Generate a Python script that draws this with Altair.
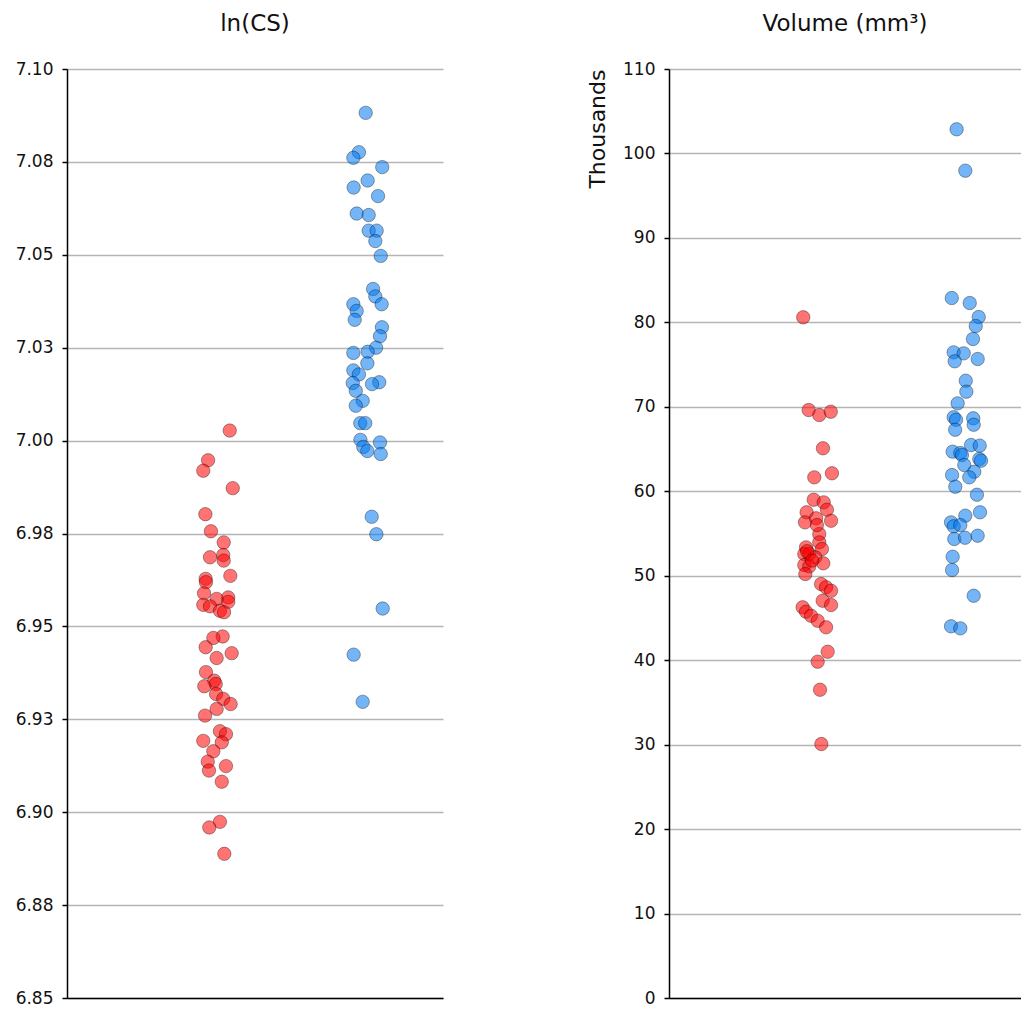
import altair as alt
import pandas as pd

FONT = "DejaVu Sans"
RED = "#FF0000"
BLUE = "#0078F0"

# ---------------- ln(CS) panel ----------------
lncs_red_x = [1.082, 0.938, 0.906, 1.102, 0.920, 0.957, 1.042, 0.951, 1.039, 1.042,
              1.086, 0.922, 0.924, 0.911, 1.072, 0.995, 0.906, 0.951, 1.072, 1.017,
              1.044, 1.035, 0.973, 0.922, 1.095, 0.995, 0.924, 0.979, 0.989, 0.913,
              0.991, 1.039, 1.088, 0.995, 0.918, 1.017, 1.057, 0.906, 1.029, 0.973,
              0.936, 0.944, 1.057, 1.029, 1.017, 0.946, 1.046]
lncs_red_y = [7.0027, 6.9947, 6.9919, 6.9872, 6.9802, 6.9756, 6.9726, 6.9686, 6.9692, 6.9677,
              6.9636, 6.9628, 6.9619, 6.9589, 6.9578, 6.9574, 6.9558, 6.9554, 6.9566, 6.9542,
              6.9538, 6.9473, 6.9469, 6.9444, 6.9428, 6.9415, 6.9377, 6.9354, 6.9345, 6.9339,
              6.9318, 6.9305, 6.9291, 6.9278, 6.9260, 6.9218, 6.9210, 6.9192, 6.9188, 6.9164,
              6.9136, 6.9112, 6.9124, 6.9082, 6.8974, 6.8959, 6.8888]
lncs_blue_x = [1.986, 1.941, 1.904, 2.096, 1.999, 1.906, 2.068, 1.926, 2.006, 2.006,
               2.059, 2.050, 2.086, 2.035, 2.050, 2.092, 1.904, 1.926, 1.913, 2.094,
               2.081, 2.055, 1.904, 1.999, 1.997, 1.904, 1.941, 2.076, 2.028, 1.900,
               1.920, 1.966, 1.920, 1.950, 1.983, 1.951, 2.081, 1.970, 1.997, 2.086,
               2.026, 2.057, 2.099, 1.906, 1.966]
lncs_blue_y = [7.0882, 7.0776, 7.0761, 7.0736, 7.0700, 7.0681, 7.0658, 7.0611, 7.0607, 7.0565,
               7.0565, 7.0537, 7.0497, 7.0408, 7.0388, 7.0367, 7.0367, 7.0349, 7.0325, 7.0305,
               7.0281, 7.0250, 7.0236, 7.0239, 7.0208, 7.0189, 7.0178, 7.0157, 7.0152, 7.0155,
               7.0134, 7.0107, 7.0094, 7.0047, 7.0047, 7.0002, 6.9995, 6.9983, 6.9972, 6.9964,
               6.9795, 6.9748, 6.9548, 6.9424, 6.9297]
lncs_ticks = [6.85, 6.875, 6.9, 6.925, 6.95, 6.975, 7.0, 7.025, 7.05, 7.075, 7.1]
lncs_labels = ["6.85", "6.88", "6.90", "6.93", "6.95", "6.98", "7.00", "7.03", "7.05", "7.08", "7.10"]

# ---------------- Volume panel (thousands of mm^3) ----------------
vol_red_x = [0.912, 0.949, 1.021, 1.099, 1.046, 0.987, 1.107, 0.983, 1.051, 1.073,
             0.935, 0.924, 0.999, 1.101, 1.021, 1.021, 0.931, 1.039, 0.919, 0.953,
             0.994, 1.048, 0.919, 0.953, 0.926, 1.033, 1.067, 1.101, 1.044, 1.101,
             0.908, 0.931, 0.965, 1.010, 1.067, 1.078, 1.010, 1.026, 1.035, 0.938,
             0.972, 1.005]
vol_red_y = [80.60, 69.62, 69.03, 69.42, 65.09, 61.65, 62.13, 59.00, 58.69, 57.82,
             57.51, 56.32, 56.80, 56.51, 54.94, 53.95, 53.36, 53.16, 52.57, 52.57,
             52.18, 51.47, 51.27, 51.11, 50.20, 49.02, 48.63, 48.22, 47.04, 46.53,
             46.26, 45.74, 45.26, 44.67, 43.89, 41.00, 39.82, 36.50, 30.07, 52.90,
             51.80, 56.00]
vol_blue_x = [1.954, 2.013, 1.921, 2.043, 2.104, 2.084, 2.065, 1.934, 2.002, 1.941,
              2.097, 2.016, 2.020, 1.961, 1.934, 1.950, 2.067, 2.070, 1.944, 2.052,
              2.111, 1.927, 1.979, 1.990, 2.108, 2.120, 2.006, 2.074, 2.040, 1.923,
              1.945, 2.092, 2.113, 2.013, 1.916, 1.934, 1.979, 1.938, 2.011, 2.097,
              1.927, 1.923, 2.070, 1.916, 1.979]
vol_blue_y = [102.86, 97.96, 82.88, 82.29, 80.63, 79.57, 78.03, 76.45, 76.33, 75.39,
              75.66, 73.09, 71.79, 70.41, 68.76, 68.47, 68.64, 67.88, 67.29, 65.48,
              65.40, 64.69, 64.53, 64.29, 63.82, 63.62, 63.11, 62.31, 61.65, 61.92,
              60.54, 59.59, 57.51, 57.11, 56.32, 55.85, 56.00, 54.35, 54.50, 54.74,
              52.25, 50.67, 47.63, 44.01, 43.77]
vol_ticks = [0, 10, 20, 30, 40, 50, 60, 70, 80, 90, 100, 110]


def make_df(rx, ry, bx, by):
    return pd.DataFrame({
        "x": rx + bx,
        "y": ry + by,
        "g": ["red"] * len(rx) + ["blue"] * len(bx),
    })


def panel(df, title, ydomain, xdomain, width, yaxis):
    return alt.Chart(df).mark_point(
        shape="circle", filled=True, size=180, fillOpacity=0.55,
        stroke="#000000", strokeOpacity=0.35, strokeWidth=1,
    ).encode(
        x=alt.X("x:Q", scale=alt.Scale(domain=xdomain, nice=False, zero=False),
                axis=alt.Axis(title=None, labels=False, ticks=False, grid=False,
                              domainColor="#000000", domainWidth=1.5)),
        y=alt.Y("y:Q", scale=alt.Scale(domain=ydomain, nice=False, zero=False),
                axis=yaxis),
        color=alt.Color("g:N", scale=alt.Scale(domain=["red", "blue"], range=[RED, BLUE]),
                        legend=None),
    ).properties(
        width=width, height=929,
        title=alt.TitleParams(title, fontSize=23, font=FONT, fontWeight="normal",
                              color="#111111", anchor="middle", offset=24),
    )


common_axis = dict(
    grid=True, gridColor="#b5b5b5", gridWidth=1.5,
    domainColor="#000000", domainWidth=1.5,
    tickColor="#000000", tickSize=5, tickWidth=1.5,
    labelFontSize=17, labelFont=FONT, labelColor="#111111", labelPadding=9,
)

lab_expr = "[" + ",".join("'%s'" % s for s in lncs_labels) + "][round((datum.value - 6.85) / 0.025)]"

left = panel(
    make_df(lncs_red_x, lncs_red_y, lncs_blue_x, lncs_blue_y),
    "ln(CS)", [6.85, 7.10], [0, 2.5], 376,
    alt.Axis(values=lncs_ticks, labelExpr=lab_expr, title=None, minExtent=59, **common_axis),
)

right_width = 352
right = panel(
    make_df(vol_red_x, vol_red_y, vol_blue_x, vol_blue_y),
    "Volume (mm³)", [0, 110], [0, 2.5 * right_width / 368], right_width,
    alt.Axis(values=vol_ticks, title="Thousands", titleFont=FONT, titleFontSize=22,
             titleFontWeight="normal", titleColor="#111111", titleAngle=-90,
             titleX=-72, titleY=0, titleAlign="right", titleBaseline="middle",
             **common_axis),
)

chart = alt.hconcat(left, right, spacing=142).properties(
    padding={"left": 0, "top": 5, "right": 0, "bottom": 0}
).configure(font=FONT).configure_view(strokeWidth=0, stroke="transparent")

chart.save("out.html", embed_options={"renderer": "svg", "actions": False})
